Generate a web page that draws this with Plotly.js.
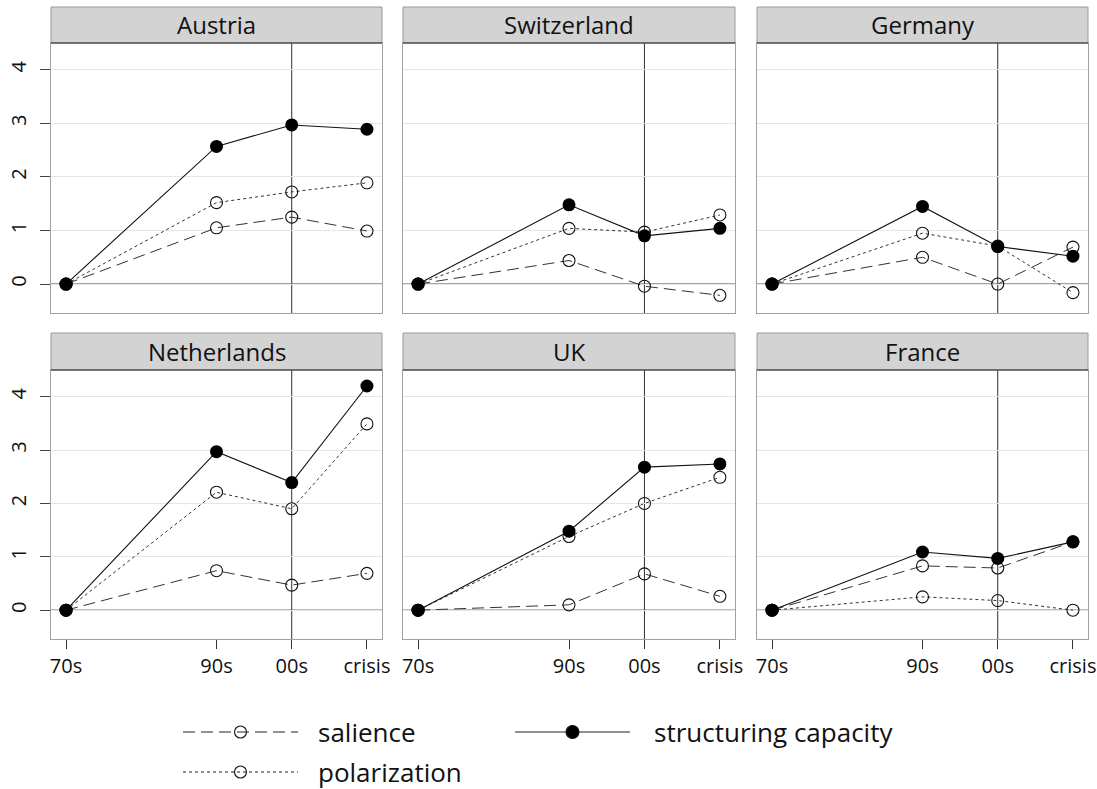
<!DOCTYPE html>
<html>
<head>
<meta charset="utf-8">
<script src="https://cdn.plot.ly/plotly-3.0.1.min.js"></script>
<style>
  html, body { margin: 0; padding: 0; background: #ffffff; }
  #chart { width: 1097px; height: 789px; }
</style>
</head>
<body>
<div id="chart"></div>
<script>
// Periods on the x axis; positions count decades from the 1970s
// (the 1980s carry no observation, so the axis skips a slot there).
const periods = ['70s', '90s', '00s', 'crisis'];
const periodIndex = [0, 2, 3, 4];

const countries = ['Austria', 'Switzerland', 'Germany', 'Netherlands', 'UK', 'France'];

// One row per country, one value per period.
const salience = [
  [0, 1.05, 1.25, 0.99],
  [0, 0.44, -0.04, -0.21],
  [0, 0.50, 0.00, 0.69],
  [0, 0.74, 0.47, 0.69],
  [0, 0.10, 0.68, 0.26],
  [0, 0.83, 0.79, 1.28]
];
const polarization = [
  [0, 1.52, 1.72, 1.89],
  [0, 1.04, 0.97, 1.29],
  [0, 0.95, 0.71, -0.16],
  [0, 2.21, 1.90, 3.49],
  [0, 1.38, 2.00, 2.49],
  [0, 0.25, 0.18, 0.00]
];
const structuring = [
  [0, 2.57, 2.97, 2.89],
  [0, 1.48, 0.90, 1.04],
  [0, 1.45, 0.70, 0.52],
  [0, 2.97, 2.39, 4.20],
  [0, 1.48, 2.68, 2.74],
  [0, 1.09, 0.97, 1.28]
];
const yTicks = [0, 1, 2, 3, 4];
const seriesNames = ['salience', 'polarization', 'structuring capacity'];

// ---- page geometry (pixels) ----
const W = 1097, H = 789;
const FONT = '"Open Sans", "DejaVu Sans", sans-serif';
const colPx = [[51, 382], [403, 735], [757, 1088]];
const rowPx = [ {strip: [7, 43], plot: [43, 313]}, {strip: [333, 370], plot: [370, 639]} ];
const px = v => v / W;
const py = v => 1 - v / H;

const salienceDash = '12px,6px';
const polarDash = '3px,3px';

const data = [];
const layout = {
  width: W, height: H,
  margin: {l: 0, r: 0, t: 0, b: 0},
  paper_bgcolor: '#ffffff',
  plot_bgcolor: '#ffffff',
  showlegend: false,
  font: {family: FONT, color: '#111111'},
  shapes: [],
  annotations: []
};

countries.forEach((name, i) => {
  const col = i % 3, row = Math.floor(i / 3);
  const n = i + 1;
  const xa = 'x' + n, ya = 'y' + n;
  const xKey = 'xaxis' + n, yKey = 'yaxis' + n;
  const [x0, x1] = colPx[col];
  const r = rowPx[row];

  layout[xKey] = {
    domain: [px(x0), px(x1)],
    anchor: ya,
    range: [-0.2, 4.2],
    tickmode: 'array',
    tickvals: periodIndex,
    ticktext: periods,
    showticklabels: row === 1,
    ticks: row === 1 ? 'outside' : '',
    ticklen: 9,
    tickwidth: 1,
    tickcolor: '#333333',
    tickfont: {family: FONT, size: 20, color: '#111111'},
    ticklabelstandoff: 0,
    ticklabeloverflow: 'allow',
    showgrid: false,
    zeroline: false,
    showline: true,
    mirror: true,
    linecolor: '#a0a0a0',
    linewidth: 1,
    fixedrange: true
  };
  layout[yKey] = {
    domain: [py(r.plot[1]), py(r.plot[0])],
    anchor: xa,
    range: [-0.54, 4.5],
    tickmode: 'array',
    tickvals: yTicks,
    ticktext: yTicks.map(String),
    showticklabels: col === 0,
    ticks: col === 0 ? 'outside' : '',
    ticklen: 10,
    tickwidth: 1,
    tickcolor: '#444444',
    tickangle: -90,
    tickfont: {family: FONT, size: 20, color: '#111111'},
    ticklabelstandoff: 6,
    ticklabeloverflow: 'allow',
    showgrid: true,
    gridcolor: '#e6e6e6',
    gridwidth: 1,
    zeroline: false,
    showline: true,
    mirror: true,
    linecolor: '#a0a0a0',
    linewidth: 1,
    fixedrange: true
  };

  // reference lines: zero level and the 00s period
  layout.shapes.push({
    type: 'line', xref: xa + ' domain', yref: ya,
    x0: 0, x1: 1, y0: 0, y1: 0,
    line: {color: '#2e2e2e', width: 1}, layer: 'below'
  });
  layout.shapes.push({
    type: 'line', xref: xa, yref: ya + ' domain',
    x0: periodIndex[2], x1: periodIndex[2], y0: 0, y1: 1,
    line: {color: '#2e2e2e', width: 1}, layer: 'below'
  });

  // panel header strip
  layout.shapes.push({
    type: 'rect', xref: 'paper', yref: 'paper',
    x0: px(x0), x1: px(x1), y0: py(r.strip[1]), y1: py(r.strip[0]),
    fillcolor: '#d3d3d3', line: {color: '#9a9a9a', width: 1}
  });
  layout.shapes.push({
    type: 'line', xref: 'paper', yref: 'paper',
    x0: px(x0), x1: px(x1), y0: py(r.strip[1]), y1: py(r.strip[1]),
    line: {color: '#222222', width: 1.2}
  });
  layout.annotations.push({
    xref: 'paper', yref: 'paper',
    x: px((x0 + x1) / 2), y: py((r.strip[0] + r.strip[1]) / 2),
    xanchor: 'center', yanchor: 'middle', showarrow: false,
    text: name, font: {family: FONT, size: 24, color: '#111111'}
  });

  // series, drawn so the filled markers sit on top
  data.push({
    type: 'scatter', mode: 'lines+markers', name: seriesNames[0],
    x: periodIndex, y: salience[i], xaxis: xa, yaxis: ya,
    line: {color: '#333333', width: 1, dash: salienceDash},
    marker: {symbol: 'circle-open', size: 12, color: '#111111', line: {width: 1.1, color: '#111111'}},
    cliponaxis: false, hoverinfo: 'skip'
  });
  data.push({
    type: 'scatter', mode: 'lines+markers', name: seriesNames[1],
    x: periodIndex, y: polarization[i], xaxis: xa, yaxis: ya,
    line: {color: '#333333', width: 1, dash: polarDash},
    marker: {symbol: 'circle-open', size: 12, color: '#111111', line: {width: 1.1, color: '#111111'}},
    cliponaxis: false, hoverinfo: 'skip'
  });
  data.push({
    type: 'scatter', mode: 'lines+markers', name: seriesNames[2],
    x: periodIndex, y: structuring[i], xaxis: xa, yaxis: ya,
    line: {color: '#111111', width: 1.1},
    marker: {symbol: 'circle', size: 13, color: '#000000'},
    cliponaxis: false, hoverinfo: 'skip'
  });
});

// ---- key below the panels ----
const keyItems = [
  {label: seriesNames[0], lineX: [183, 298], textX: 316, y: 732, dash: salienceDash, filled: false},
  {label: seriesNames[1], lineX: [183, 298], textX: 316, y: 772, dash: polarDash, filled: false},
  {label: seriesNames[2], lineX: [515, 630], textX: 652, y: 732, dash: 'solid', filled: true}
];
keyItems.forEach(k => {
  layout.shapes.push({
    type: 'line', xref: 'paper', yref: 'paper',
    x0: px(k.lineX[0]), x1: px(k.lineX[1]), y0: py(k.y), y1: py(k.y),
    line: {color: '#222222', width: 1, dash: k.dash}
  });
  const cx = px((k.lineX[0] + k.lineX[1]) / 2);
  const d = k.filled ? 13 : 12;
  layout.shapes.push({
    type: 'circle', xref: 'paper', yref: 'paper',
    xsizemode: 'pixel', ysizemode: 'pixel',
    xanchor: cx, yanchor: py(k.y),
    x0: -d / 2, x1: d / 2, y0: -d / 2, y1: d / 2,
    fillcolor: k.filled ? '#000000' : 'rgba(0,0,0,0)',
    line: {color: '#111111', width: 1.1}
  });
  layout.annotations.push({
    xref: 'paper', yref: 'paper', x: px(k.textX), y: py(k.y),
    xanchor: 'left', yanchor: 'middle', showarrow: false,
    text: k.label, font: {family: FONT, size: 26, color: '#111111'}
  });
});

Plotly.newPlot('chart', data, layout, {displayModeBar: false, staticPlot: true});
</script>
</body>
</html>
